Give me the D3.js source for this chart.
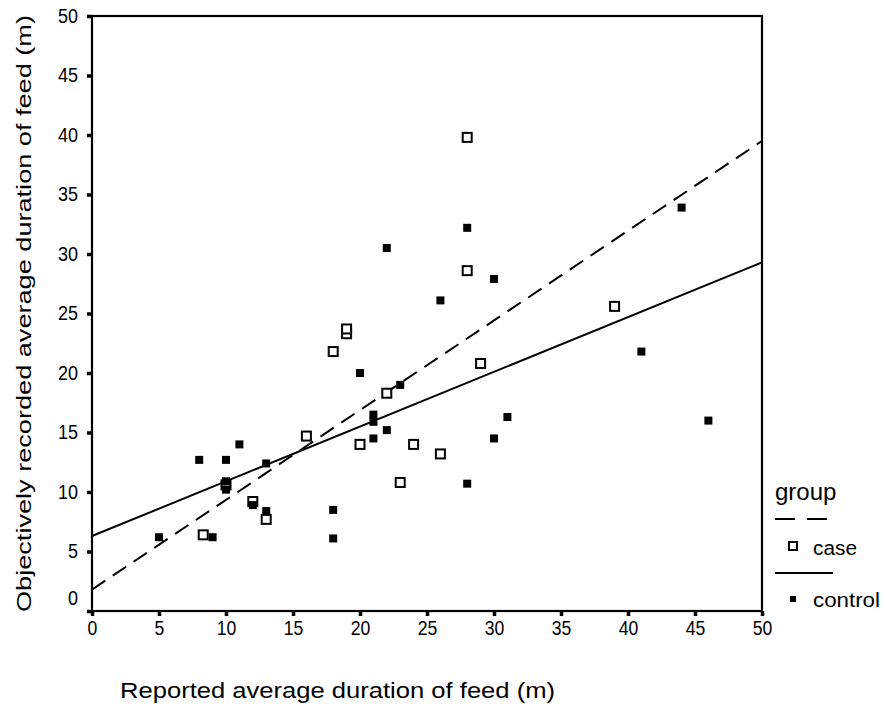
<!DOCTYPE html>
<html><head><meta charset="utf-8">
<script src="https://cdn.jsdelivr.net/npm/d3@7"></script>
<style>
html,body{margin:0;padding:0;background:#fff;}
text{font-family:"Liberation Sans",Arial,Helvetica,sans-serif;fill:#000;}
</style></head>
<body>
<svg id="chart" width="885" height="719"></svg>
<script>
// ---- data ----
const caseX = [28, 28, 39, 19, 19, 18, 29, 22, 16, 20, 24, 26, 23, 12, 13, 8.3, 10];
const caseY = [39.8, 28.6, 25.6, 23.3, 23.7, 21.8, 20.8, 18.3, 14.7, 14.0, 14.0, 13.2, 10.8, 9.2, 7.7, 6.4, 10.6];
const controlX = [5, 8, 10, 11, 10, 10, 9, 12, 13, 13, 18, 18, 20, 21, 21, 21, 22, 22, 23, 26, 28, 28, 30, 30, 31, 41, 44, 46];
const controlY = [6.2, 12.7, 12.7, 14.0, 10.9, 10.2, 6.2, 8.9, 12.4, 8.4, 8.5, 6.1, 20.0, 16.5, 15.9, 14.5, 15.2, 30.5, 19.0, 26.1, 32.2, 10.7, 27.9, 14.5, 16.3, 21.8, 33.9, 16.0];
const fitXs = [0, 50];
const caseFit = [1.8, 39.5];
const controlFit = [6.3, 29.3];
const xTicks = [0, 5, 10, 15, 20, 25, 30, 35, 40, 45, 50];
const yTicks = [0, 5, 10, 15, 20, 25, 30, 35, 40, 45, 50];
const groups = ["case", "control"];
const xTitle = "Reported average duration of feed (m)";
const yTitle = "Objectively recorded average duration of feed (m)";
const legendTitle = "group";

// ---- layout ----
const svg = d3.select("#chart");
const L = 92, R = 762, T = 16, B = 611;
const x = d3.scaleLinear().domain([0, 50]).range([L, R]);
const y = d3.scaleLinear().domain([0, 50]).range([B, T]);

function narrow(sel, f) {
  sel.each(function () {
    const w = this.getComputedTextLength();
    d3.select(this).attr("textLength", w * f).attr("lengthAdjust", "spacingAndGlyphs");
  });
}

// frame
svg.append("rect").attr("x", L).attr("y", T).attr("width", R - L).attr("height", B - T)
  .attr("fill", "none").attr("stroke", "#000").attr("stroke-width", 2.2);

// axes
const xAxis = svg.append("g").attr("transform", `translate(0,${B})`)
  .call(d3.axisBottom(x).tickValues(xTicks).tickSize(5).tickPadding(5).tickFormat(d3.format("d")));
xAxis.select(".domain").remove();
xAxis.selectAll(".tick line").attr("stroke-width", 3.5);
xAxis.selectAll(".tick text").attr("font-size", 20).style("font-family", "'Liberation Sans',Arial,sans-serif");
narrow(xAxis.selectAll(".tick text"), 0.88);

const yAxis = svg.append("g").attr("transform", `translate(${L},0)`)
  .call(d3.axisLeft(y).tickValues(yTicks).tickSize(5).tickPadding(9).tickFormat(d3.format("d")));
yAxis.select(".domain").remove();
yAxis.selectAll(".tick line").attr("stroke-width", 3.5);
yAxis.selectAll(".tick text").attr("font-size", 20).style("font-family", "'Liberation Sans',Arial,sans-serif");
narrow(yAxis.selectAll(".tick text"), 0.9);
yAxis.selectAll(".tick").filter(d => d === 0).select("text").attr("dy", "-0.35em");

// titles
svg.append("text").attr("x", 120).attr("y", 698).attr("font-size", 22)
  .attr("textLength", 435).attr("lengthAdjust", "spacingAndGlyphs").text(xTitle);
svg.append("text").attr("transform", `translate(31,612) rotate(-90)`).attr("font-size", 21)
  .attr("textLength", 597).attr("lengthAdjust", "spacingAndGlyphs").text(yTitle);

// fit lines
const line = d3.line().x((d, i) => x(fitXs[i])).y(d => y(d));
svg.append("path").datum(caseFit).attr("d", line).attr("fill", "none")
  .attr("stroke", "#000").attr("stroke-width", 2).attr("stroke-dasharray", "16,9");
svg.append("path").datum(controlFit).attr("d", line).attr("fill", "none")
  .attr("stroke", "#000").attr("stroke-width", 2);

// points
const caseData = caseX.map((v, i) => [v, caseY[i]]);
const ctrlData = controlX.map((v, i) => [v, controlY[i]]);
svg.append("g").selectAll("rect").data(caseData).join("rect")
  .attr("x", d => x(d[0]) - 4.5).attr("y", d => y(d[1]) - 4.5)
  .attr("width", 9).attr("height", 9).attr("fill", "#fff")
  .attr("stroke", "#000").attr("stroke-width", 2);
svg.append("g").selectAll("rect").data(ctrlData).join("rect")
  .attr("x", d => x(d[0]) - 4).attr("y", d => y(d[1]) - 4)
  .attr("width", 8).attr("height", 8).attr("fill", "#000");

// legend
const lg = svg.append("g");
lg.append("text").attr("x", 775).attr("y", 500).attr("font-size", 24).text(legendTitle);
lg.append("line").attr("x1", 775).attr("x2", 833).attr("y1", 519).attr("y2", 519)
  .attr("stroke", "#000").attr("stroke-width", 2).attr("stroke-dasharray", "20,12");
lg.append("rect").attr("x", 789).attr("y", 542).attr("width", 8).attr("height", 8)
  .attr("fill", "#fff").attr("stroke", "#000").attr("stroke-width", 2);
lg.append("text").attr("x", 813).attr("y", 555).attr("font-size", 20)
  .attr("textLength", 44).attr("lengthAdjust", "spacingAndGlyphs").text(groups[0]);
lg.append("line").attr("x1", 775).attr("x2", 833).attr("y1", 573).attr("y2", 573)
  .attr("stroke", "#000").attr("stroke-width", 2);
lg.append("rect").attr("x", 790).attr("y", 596).attr("width", 6).attr("height", 6).attr("fill", "#000");
lg.append("text").attr("x", 813).attr("y", 607).attr("font-size", 20)
  .attr("textLength", 67).attr("lengthAdjust", "spacingAndGlyphs").text(groups[1]);
</script>
</body></html>
